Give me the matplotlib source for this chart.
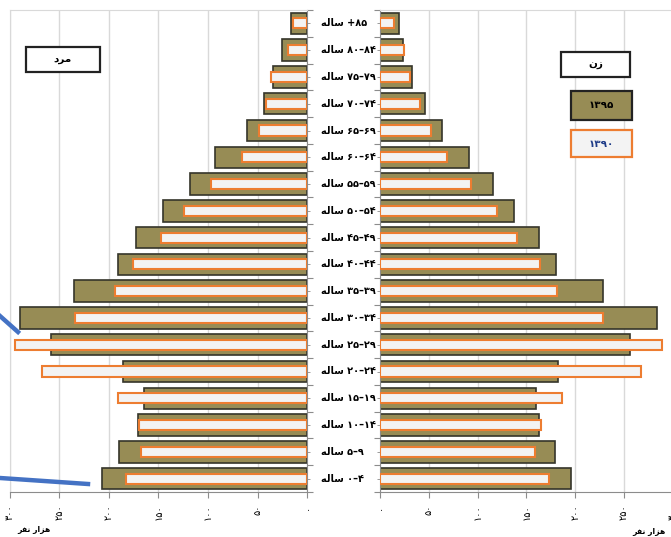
import matplotlib
matplotlib.use("Agg")
import matplotlib.pyplot as plt
from matplotlib.patches import Rectangle
from matplotlib.lines import Line2D
import numpy as np

# ── Data (bottom → top: 0-4 ... 85+), thousands of people ─────────────────────
ages = ["۰–۴", "۵–۹", "۱۰–۱۴", "۱۵–۱۹", "۲۰–۲۴", "۲۵–۲۹", "۳۰–۳۴", "۳۵–۳۹", "۴۰–۴۴",
        "۴۵–۴۹", "۵۰–۵۴", "۵۵–۵۹", "۶۰–۶۴", "۶۵–۶۹", "۷۰–۷۴", "۷۵–۷۹", "۸۰–۸۴", "+۸۵"]
male_1395   = [207, 190, 171, 165, 186, 259, 290, 235, 191, 173, 145, 118, 93, 61, 43, 34, 25, 16]
male_1390   = [183, 168, 170, 191, 268, 295, 234, 194, 176, 147, 124, 97, 66, 48, 41, 36, 19, 14]
female_1395 = [196, 179, 163, 160, 182, 256, 284, 228, 180, 163, 137, 116, 91, 64, 46, 33, 24, 19]
female_1390 = [173, 159, 165, 186, 267, 289, 228, 181, 164, 140, 120, 93, 69, 52, 41, 31, 25, 14]
xticks      = [0, 50, 100, 150, 200, 250, 300]
xtick_lbls  = ["۰", "۵۰", "۱۰۰", "۱۵۰", "۲۰۰", "۲۵۰", "۳۰۰"]

# pre-shaped, visual-order Persian strings (matplotlib has no bidi / shaping)
SALEH  = "ﻪﻟﺎﺳ"          # ساله
UNIT   = "ﺮﻔﻧ ﺭﺍﺰﻫ"      # هزار نفر
MALE   = "ﺩﺮﻣ"           # مرد
FEMALE = "ﻥﺯ"            # زن
Y1395, Y1390 = "۱۳۹۵", "۱۳۹۰"

OLIVE, OLIVE_EDGE = "#978c55", "#35352a"
ORANGE, LIGHT = "#ed7d31", "#f3f3f3"
GRID, AXIS = "#d9d9d9", "#8c8c8c"

W, H = 671, 537
fig = plt.figure(figsize=(W / 100, H / 100), dpi=100)
plt.rcParams["font.family"] = ["DejaVu Sans"]

def px_axes(x0, x1, y_top, y_bot):
    return fig.add_axes([x0 / W, 1 - y_bot / H, (x1 - x0) / W, (y_bot - y_top) / H])

ax_m = px_axes(10, 307, 10, 492)
ax_f = px_axes(380, 672.8, 10, 492)
y = np.arange(len(ages))

for ax, v95, v90 in [(ax_m, male_1395, male_1390), (ax_f, female_1395, female_1390)]:
    ax.barh(y, v95, height=0.8, color=OLIVE, edgecolor=OLIVE_EDGE, linewidth=1.2, zorder=2)
    ax.barh(y, v90, height=0.38, color=LIGHT, edgecolor=ORANGE, linewidth=1.5, zorder=3)
    ax.set_ylim(-0.5, len(ages) - 0.5)
    ax.set_xticks(xticks)
    ax.set_xticklabels(xtick_lbls, rotation=90, fontsize=7, va="top")
    ax.tick_params(axis="x", length=4, color=AXIS, pad=5)
    ax.grid(axis="x", color=GRID, linewidth=1, zorder=0)
    ax.set_yticks(np.arange(len(ages) + 1) - 0.5)
    ax.set_yticklabels([])
    ax.set_yticks(y, minor=True)
    ax.tick_params(axis="y", which="major", length=4, color=AXIS)
    ax.tick_params(axis="y", which="minor", length=2, color=AXIS)
    ax.spines["top"].set_color(GRID)
    ax.spines["bottom"].set_color(AXIS)

ax_m.set_xlim(300, 0)
ax_m.yaxis.tick_right()
ax_m.tick_params(axis="y", which="both", left=False, right=True)
ax_m.spines["left"].set_color(GRID)
ax_m.spines["right"].set_color(AXIS)

ax_f.set_xlim(0, 300)
ax_f.spines["right"].set_visible(False)
ax_f.spines["left"].set_color(AXIS)

# age group labels in the middle column
for yi, a in zip(y, ages):
    yd = ax_m.transData.transform((0, yi))[1]
    fig.text(321 / W, yd / fig.dpi / fig.get_figheight(), SALEH + " " + a,
             ha="left", va="center", fontsize=7, fontweight="bold")

# axis unit labels
fig.text(17 / W, 1 - 530 / H, UNIT, ha="left", va="center", fontsize=5.5, fontweight="bold")
fig.text(665 / W, 1 - 531 / H, UNIT, ha="right", va="center", fontsize=5.5, fontweight="bold")

# legend-like boxes
def box(x0, y0, x1, y1, fc, ec, txt, tc="black"):
    fig.patches.append(Rectangle((x0 / W, 1 - y1 / H), (x1 - x0) / W, (y1 - y0) / H,
                                 transform=fig.transFigure, facecolor=fc, edgecolor=ec,
                                 linewidth=1.6, zorder=5))
    fig.text((x0 + x1) / 2 / W, 1 - (y0 + y1) / 2 / H, txt, ha="center", va="center",
             fontsize=7.5, fontweight="bold", color=tc, zorder=6)

box(26, 47, 100, 72, "white", "#222222", MALE)
box(561, 52, 630, 77, "white", "#222222", FEMALE)
box(571, 91, 632, 120, OLIVE, "#222222", Y1395)
box(571, 130, 632, 157, LIGHT, ORANGE, Y1390, tc="#1f3c88")

# blue annotation strokes on the left edge
for (xa, ya), (xb, yb) in [((0, 316), (18, 332)), ((0, 478), (88, 484))]:
    fig.lines.append(Line2D([xa / W, xb / W], [1 - ya / H, 1 - yb / H],
                            transform=fig.transFigure, color="#4472c4", linewidth=3.2, zorder=7))

fig.savefig("out.png", dpi=100)
